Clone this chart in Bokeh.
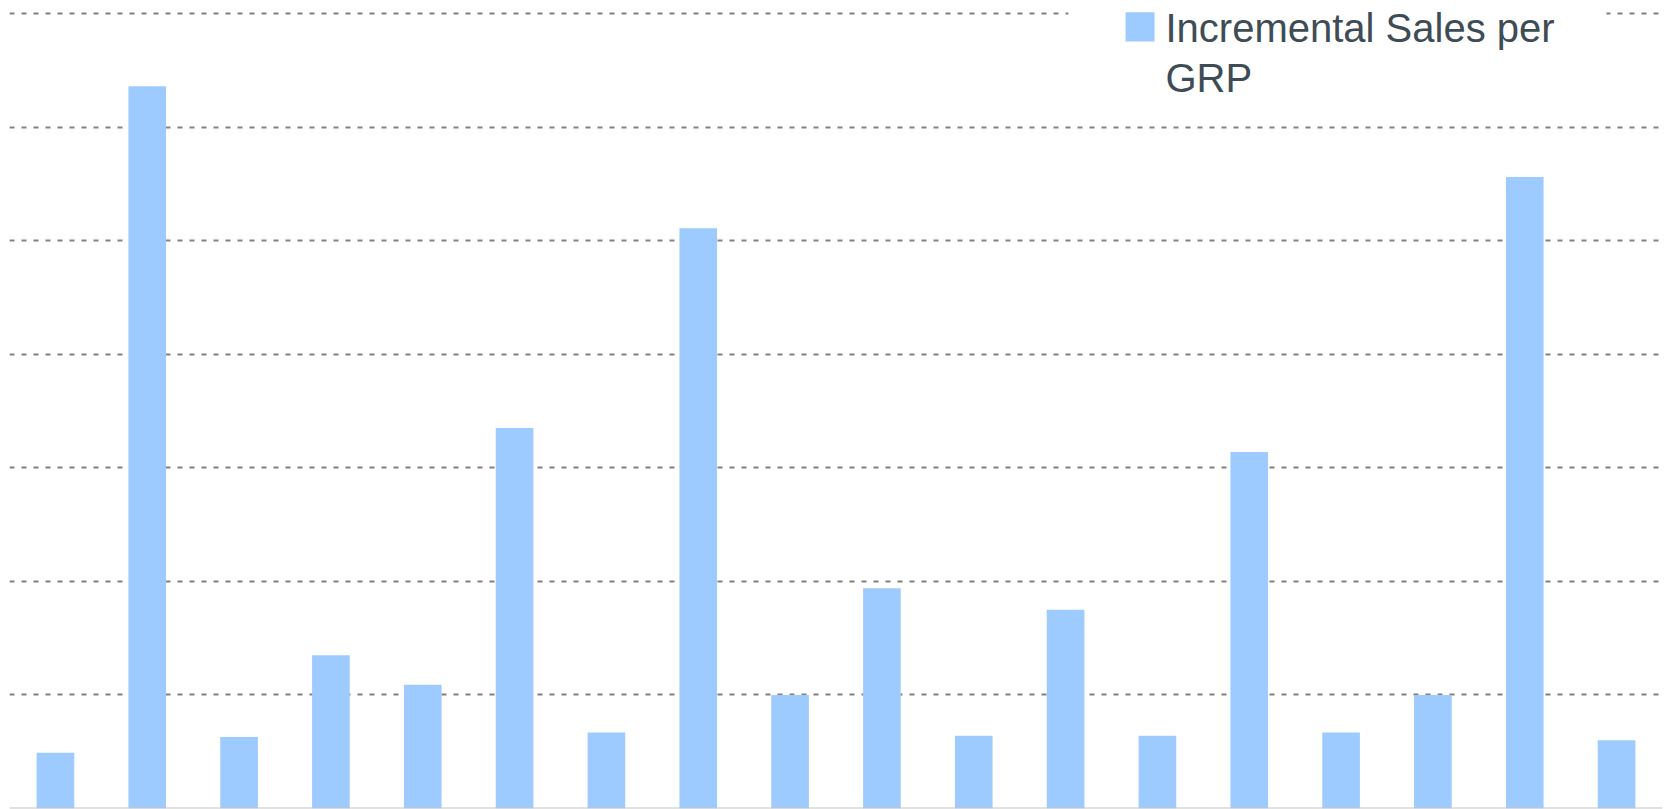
from bokeh.plotting import figure
from bokeh.models import FactorRange, FixedTicker, Span, BoxAnnotation, Label
from bokeh.embed import file_html
from bokeh.resources import INLINE

# ---- data ----
categories = [str(i) for i in range(1, 19)]
incremental_sales_per_grp = [0.49, 6.36, 0.63, 1.35, 1.09, 3.35, 0.67, 5.11, 1.00,
                             1.94, 0.64, 1.75, 0.64, 3.14, 0.67, 1.00, 5.56, 0.60]
grid_ticks = [1, 2, 3, 4, 5, 6, 7]
series_name = ["Incremental Sales per", "GRP"]

BAR = "#9ECBFF"
TEXT = "#3E4C55"

p = figure(width=1671, height=809,
           x_range=FactorRange(*categories, range_padding=0),
           y_range=(0, 7.0176),
           x_axis_location=None, y_axis_location=None,
           output_backend="svg", toolbar_location=None,
           min_border_left=9, min_border_right=9,
           min_border_top=11, min_border_bottom=1)
p.outline_line_color = None
p.background_fill_color = "white"
p.border_fill_color = "white"

p.xgrid.visible = False
p.ygrid.ticker = FixedTicker(ticks=grid_ticks)
p.ygrid.grid_line_color = "#808080"
p.ygrid.grid_line_width = 2
p.ygrid.grid_line_dash = "5 7"

p.vbar(x=categories, top=incremental_sales_per_grp, width=0.41,
       fill_color=BAR, line_color=None)

p.add_layout(Span(location=0, dimension="width", line_color="#c4c4c4", line_width=2))

# legend (manual)
p.add_layout(BoxAnnotation(left=11.53, right=17.39, bottom=6.2, top=7.3,
                           fill_color="white", fill_alpha=1.0, line_color=None))
p.add_layout(BoxAnnotation(left=12.153, right=12.469, bottom=6.754, top=7.012,
                           fill_color=BAR, fill_alpha=1.0, line_color=None))
for txt, yy in zip(series_name, [6.875, 6.43]):
    p.add_layout(Label(x=12.588, y=yy, text=txt, text_font="Liberation Sans",
                       text_font_size="40px", text_color=TEXT,
                       text_baseline="alphabetic", text_align="left"))

open("out.html", "w").write(file_html(p, INLINE))
